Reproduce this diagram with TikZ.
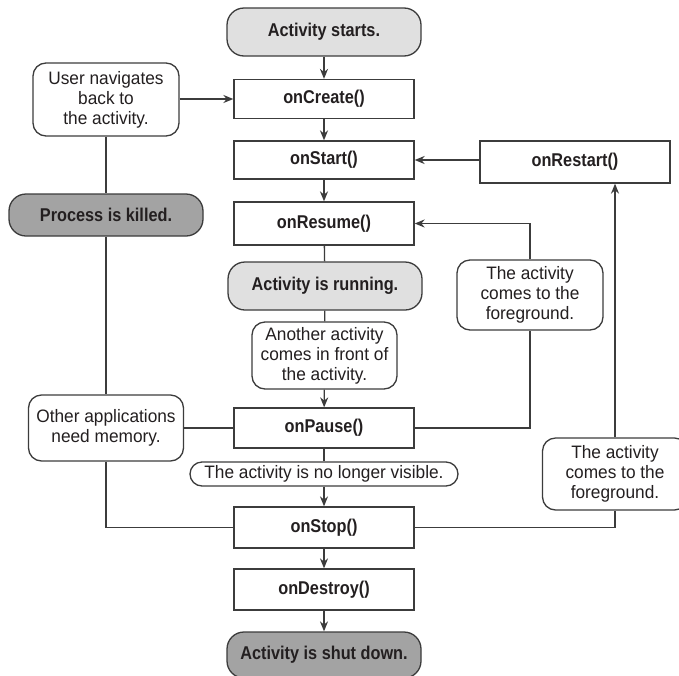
\documentclass[tikz,border=0pt]{standalone}
\usepackage{fontspec}
\setmainfont{Liberation Sans}[FakeStretch=0.96]
\newfontfamily\hb{Liberation Sans}[FakeStretch=0.88]
\usetikzlibrary{arrows.meta}
\definecolor{ln}{HTML}{3C3C3C}
\definecolor{lite}{HTML}{E0E0E0}
\definecolor{dark}{HTML}{A3A3A3}
\definecolor{ink}{HTML}{231F20}
\begin{document}
\begin{tikzpicture}[x=1pt,y=-1pt,
  base/.style={draw=ln, line width=1.3pt, text=ink, inner sep=0pt, align=center},
  proc/.style={base, rectangle, fill=white, minimum width=180pt, minimum height=40pt,
    font=\hb\bfseries\fontsize{18.5}{20}\selectfont},
  state/.style={base, rounded corners=17pt, fill=lite, minimum width=194pt, minimum height=48pt,
    font=\hb\bfseries\fontsize{18.5}{20}\selectfont},
  note/.style={base, rounded corners=13pt, fill=white, font=\fontsize{18}{20}\selectfont},
  wire/.style={draw=ln, line width=1.3pt},
  arr/.style={wire, -{Stealth[length=10pt,width=8pt]}}]
\useasboundingbox (0,0) rectangle (679,675);
\fill[white] (0,0) rectangle (679,675);
% main column
\node[state] (start) at (324,32) {Activity starts.};
\node[proc, minimum height=39pt] (create) at (324,99) {onCreate()};
\node[proc, minimum height=38pt] (ostart) at (324,160) {onStart()};
\node[proc, minimum height=42pt, minimum width=190pt] (restart) at (575,162) {onRestart()};
\node[proc, minimum height=43pt] (resume) at (324,223.5) {onResume()};
\node[state] (running) at (325,286) {Activity is running.};
\node[note, minimum width=145pt, minimum height=67pt] (another) at (324.5,355.5) {Another activity\\comes in front of\\the activity.};
\node[proc] (pause) at (324,428) {onPause()};
\node[note, rounded corners=12pt, minimum width=268pt, minimum height=24pt] (invis) at (324,474) {The activity is no longer visible.};
\node[proc, minimum height=41pt] (stop) at (324,527.5) {onStop()};
\node[proc, minimum height=41pt] (destroy) at (324,589.5) {onDestroy()};
\node[state, fill=dark, minimum height=46pt] (shut) at (324,655) {Activity is shut down.};
% left side
\node[note, minimum width=146pt, minimum height=73pt] (user) at (106,99.5) {User navigates\\back to\\the activity.};
\node[state, fill=dark, minimum height=42pt] (killed) at (106,215) {Process is killed.};
\node[note, minimum width=155pt, minimum height=66pt] (other) at (106,428) {Other applications\\need memory.};
% right side
\node[note, minimum width=146pt, minimum height=70pt] (fg1) at (530,295) {The activity\\comes to the\\foreground.};
\node[note, minimum width=145pt, minimum height=72pt] (fg2) at (615,474) {The activity\\comes to the\\foreground.};
% connectors
\draw[arr] (start) -- (create);
\draw[arr] (create) -- (ostart);
\draw[arr] (ostart) -- (resume);
\draw[wire] (resume) -- (running);
\draw[wire] (running) -- (another);
\draw[arr] (another) -- (pause);
\draw[wire] (pause) -- (invis);
\draw[arr] (invis) -- (stop);
\draw[arr] (stop) -- (destroy);
\draw[arr] (destroy) -- (shut);
\draw[arr] (user.east |- create.west) -- (create.west);
\draw[wire] (user) -- (killed);
\draw[wire] (killed) -- (other);
\draw[wire] (other) -- (pause);
\draw[wire] (other.south) |- (stop.west);
\draw[wire] (pause.east) -| (fg1.south);
\draw[arr] (fg1.north) |- (resume.east);
\draw[wire] (stop.east) -| (fg2.south);
\draw[arr] (fg2.north) -- (fg2.north |- restart.south);
\draw[arr] (restart.west |- ostart.east) -- (ostart.east);
\end{tikzpicture}
\end{document}
